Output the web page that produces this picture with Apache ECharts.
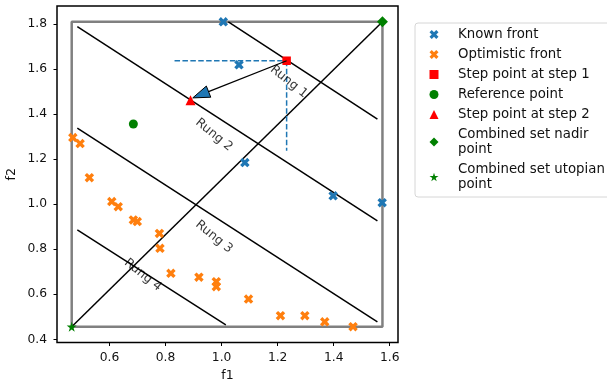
<!DOCTYPE html>
<html style="height: 100%">
<head>
<meta charset="utf-8">
</head>
<body style="height: 100%; margin: 0">
<div id="container" style="width: 607px; height: 384px"></div>
<script type="text/javascript" src="https://cdn.jsdelivr.net/npm/echarts@6/dist/echarts.min.js"></script>
<script type="text/javascript">
var knownFront = [[1.006, 1.810], [1.062, 1.619], [1.083, 1.185], [1.398, 1.037], [1.573, 1.007]];
var optimisticFront = [
    [0.469, 1.296], [0.495, 1.269], [0.528, 1.118], [0.608, 1.012], [0.631, 0.989],
    [0.685, 0.930], [0.699, 0.923], [0.778, 0.870], [0.780, 0.804], [0.819, 0.693],
    [0.919, 0.676], [0.981, 0.656], [0.981, 0.634], [1.096, 0.579], [1.210, 0.505],
    [1.297, 0.505], [1.368, 0.478], [1.469, 0.456]
];
var stepPoint1 = [1.232, 1.637];
var referencePoint = [0.685, 1.356];
var stepPoint2 = [0.889, 1.462];
var nadirPoint = [1.574, 1.810];
var utopianPoint = [0.465, 0.456];
// rung segments: x0, y0, x1, y1
var rungs = [
    [1.024, 1.810, 1.556, 1.378],
    [0.485, 1.788, 1.556, 0.926],
    [0.485, 1.338, 1.556, 0.478],
    [0.485, 0.886, 1.015, 0.464]
];
var rungLabels = [[1.240, 1.544, 'Rung 1'], [0.973, 1.308, 'Rung 2'], [0.973, 0.855, 'Rung 3'], [0.719, 0.686, 'Rung 4']];
var dashedBox = [[0.832, 1.637, 1.232, 1.637], [1.232, 1.637, 1.232, 1.237]];
var arrow = [[1.232, 1.637, 0.897, 1.472]];
var xTicks = [0.6, 0.8, 1.0, 1.2, 1.4, 1.6];
var yTicks = [0.4, 0.6, 0.8, 1.0, 1.2, 1.4, 1.6, 1.8];

var FONT = 'DejaVu Sans';
var xPath = 'path://M0.5,0 L1,0.5 L1.5,0 L2,0.5 L1.5,1 L2,1.5 L1.5,2 L1,1.5 L0.5,2 L0,1.5 L0.5,1 L0,0.5 Z';
var starPath = 'path://M50,0 L61,35 L98,35 L68,57 L79,91 L50,70 L21,91 L32,57 L2,35 L39,35 Z';

var rectPoints = [
    [utopianPoint[0], utopianPoint[1]], [nadirPoint[0], utopianPoint[1]],
    [nadirPoint[0], nadirPoint[1]], [utopianPoint[0], nadirPoint[1]],
    [utopianPoint[0], utopianPoint[1]]
];
var diagonal = [[utopianPoint[0], utopianPoint[1], nadirPoint[0], nadirPoint[1]]];

function segments(color, width, dash) {
    return function (params, api) {
        var p0 = api.coord([api.value(0), api.value(1)]);
        var p1 = api.coord([api.value(2), api.value(3)]);
        return {
            type: 'line',
            shape: {x1: p0[0], y1: p0[1], x2: p1[0], y2: p1[1]},
            style: {stroke: color, lineWidth: width, lineDash: dash || null}
        };
    };
}

function arrowItem(params, api) {
    var p0 = api.coord([api.value(0), api.value(1)]);
    var p1 = api.coord([api.value(2), api.value(3)]);
    var dx = p1[0] - p0[0], dy = p1[1] - p0[1];
    var len = Math.sqrt(dx * dx + dy * dy);
    var ux = dx / len, uy = dy / len;
    var hl = 17, hw = 6;
    var bx = p1[0] - ux * hl, by = p1[1] - uy * hl;
    return {
        type: 'group',
        children: [{
            type: 'line',
            shape: {x1: p0[0], y1: p0[1], x2: bx, y2: by},
            style: {stroke: '#000', lineWidth: 1.3}
        }, {
            type: 'polygon',
            shape: {points: [[p1[0], p1[1]], [bx - uy * hw, by + ux * hw], [bx + uy * hw, by - ux * hw]]},
            style: {fill: '#1f77b4', stroke: '#000', lineWidth: 1}
        }]
    };
}

var dom = document.getElementById('container');
var myChart = echarts.init(dom);
var option = {
    animation: false,
    textStyle: {fontFamily: FONT},
    grid: {left: 57, right: 209, top: 6, bottom: 41.5, show: true, borderColor: '#000', borderWidth: 1.5,
        containLabel: false, outerBoundsMode: 'none'},
    xAxis: {
        type: 'value', min: 0.4125, max: 1.6295,
        name: 'f1', nameLocation: 'middle', nameGap: 27, nameMoveOverlap: false,
        nameTextStyle: {fontFamily: FONT, fontSize: 12.5, color: '#111'},
        splitLine: {show: false},
        axisLine: {show: false},
        axisTick: {show: true, length: 3.5, lineStyle: {color: '#000', width: 1}, customValues: xTicks},
        axisLabel: {fontFamily: FONT, fontSize: 12.3, color: '#111', margin: 9, customValues: xTicks,
            formatter: function (v) { return v.toFixed(1); }}
    },
    yAxis: {
        type: 'value', min: 0.386, max: 1.880,
        name: 'f2', nameLocation: 'middle', nameGap: 39, nameRotate: 90, nameMoveOverlap: false,
        nameTextStyle: {fontFamily: FONT, fontSize: 12.5, color: '#111'},
        splitLine: {show: false},
        axisLine: {show: false},
        axisTick: {show: true, length: 3.5, lineStyle: {color: '#000', width: 1}, customValues: yTicks},
        axisLabel: {fontFamily: FONT, fontSize: 12.3, color: '#111', margin: 10, customValues: yTicks,
            formatter: function (v) { return v.toFixed(1); }}
    },
    legend: {
        orient: 'vertical', left: 415, top: 23,
        itemGap: 5, itemWidth: 9, itemHeight: 9,
        padding: [4, 8, 5, 14.5],
        borderColor: '#d6d6d6', borderWidth: 1, borderRadius: 3,
        textStyle: {fontFamily: FONT, fontSize: 13.3, lineHeight: 15, color: '#111', padding: [0, 0, 0, 14.5]},
        data: [
            {name: 'Known front', icon: xPath},
            {name: 'Optimistic front', icon: xPath},
            {name: 'Step point at step 1', icon: 'rect'},
            {name: 'Reference point', icon: 'circle'},
            {name: 'Step point at step 2', icon: 'triangle'},
            {name: 'Combined set nadir\npoint', icon: 'diamond'},
            {name: 'Combined set utopian\npoint', icon: starPath}
        ]
    },
    series: [
        {type: 'line', data: rectPoints, symbol: 'none', silent: true, z: 1,
            lineStyle: {color: '#808080', width: 2.5}},
        {type: 'custom', data: rungs, renderItem: segments('#000', 1.5), silent: true, z: 2,
            encode: {x: [0, 2], y: [1, 3]}},
        {type: 'custom', data: diagonal, renderItem: segments('#000', 1.5), silent: true, z: 2,
            encode: {x: [0, 2], y: [1, 3]}},
        {type: 'custom', data: dashedBox, renderItem: segments('#1f77b4', 1.5, [5.5, 2.4]), silent: true, z: 2,
            encode: {x: [0, 2], y: [1, 3]}},
        {type: 'scatter', data: rungLabels, symbolSize: 0, silent: true, z: 3,
            label: {show: true, position: 'inside', rotate: -39, fontFamily: FONT, fontSize: 12.5, color: '#000',
                formatter: function (p) { return p.value[2]; }}},
        {name: 'Known front', type: 'scatter', data: knownFront, symbol: xPath, symbolSize: 9.5, z: 4,
            itemStyle: {color: '#1f77b4', opacity: 1}},
        {name: 'Optimistic front', type: 'scatter', data: optimisticFront, symbol: xPath, symbolSize: 9.5, z: 4,
            itemStyle: {color: '#ff7f0e', opacity: 1}},
        {name: 'Step point at step 1', type: 'scatter', data: [stepPoint1], symbol: 'rect', symbolSize: 8.5, z: 4,
            itemStyle: {color: '#ff0000', opacity: 1}},
        {name: 'Reference point', type: 'scatter', data: [referencePoint], symbol: 'circle', symbolSize: 9, z: 4,
            itemStyle: {color: '#008000', opacity: 1}},
        {name: 'Step point at step 2', type: 'scatter', data: [stepPoint2], symbol: 'triangle', symbolSize: 10, z: 4,
            itemStyle: {color: '#ff0000', opacity: 1}},
        {name: 'Combined set nadir\npoint', type: 'scatter', data: [nadirPoint], symbol: 'diamond', symbolSize: 11, z: 4,
            itemStyle: {color: '#008000', opacity: 1}},
        {name: 'Combined set utopian\npoint', type: 'scatter', data: [utopianPoint], symbol: starPath, symbolSize: 10, z: 4,
            itemStyle: {color: '#008000', opacity: 1}},
        {type: 'custom', data: arrow, renderItem: arrowItem, silent: true, z: 5,
            encode: {x: [0, 2], y: [1, 3]}}
    ]
};
myChart.setOption(option);
</script>
</body>
</html>
